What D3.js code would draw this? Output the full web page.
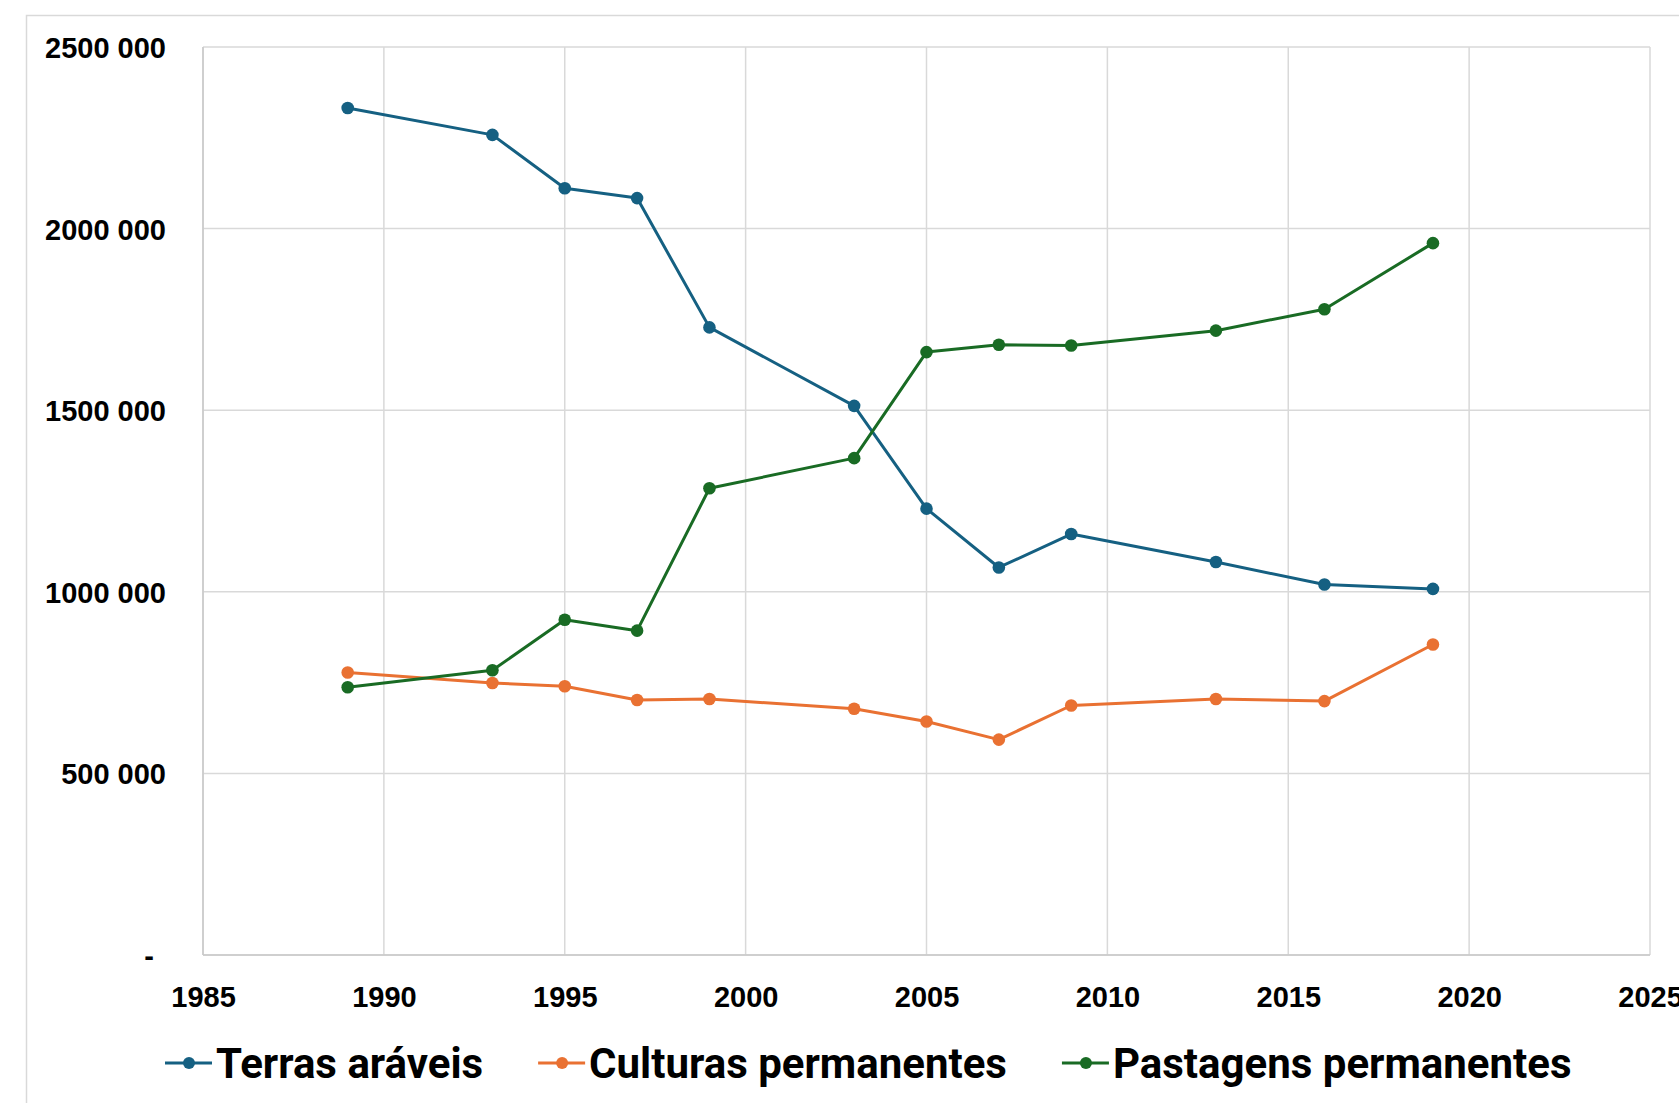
<!DOCTYPE html>
<html>
<head>
<meta charset="utf-8">
<script src="https://cdn.jsdelivr.net/npm/d3@7"></script>
<style>
  body { margin: 0; background: #fff; }
  svg { display: block; font-family: Roboto, 'Liberation Sans', sans-serif; font-weight: bold; }
  .grid line { stroke: #d9d9d9; stroke-width: 1.5; }
  .tick-label { font-size: 29px; fill: #000; }
  .legend-label { font-size: 42px; fill: #000; }
</style>
</head>
<body>
<svg id="chart" width="1679" height="1103"></svg>
<script>
'use strict';

var years = [1989, 1993, 1995, 1997, 1999, 2003, 2005, 2007, 2009, 2013, 2016, 2019];

var terrasAraveis = [2332000, 2258000, 2111000, 2084000, 1728000, 1512000, 1229000, 1067000, 1159000, 1082000, 1020000, 1008000];
var culturasPermanentes = [778000, 749000, 740000, 702000, 705000, 678000, 643000, 593000, 687000, 705000, 699000, 855000];
var pastagensPermanentes = [737000, 784000, 923000, 893000, 1285000, 1368000, 1660000, 1680000, 1678000, 1719000, 1778000, 1960000];

var seriesNames = ['Terras aráveis', 'Culturas permanentes', 'Pastagens permanentes'];
var seriesColors = ['#156082', '#e97132', '#196b24'];

var xTicks = [1985, 1990, 1995, 2000, 2005, 2010, 2015, 2020, 2025];
var yTicks = [0, 500000, 1000000, 1500000, 2000000, 2500000];

var series = [terrasAraveis, culturasPermanentes, pastagensPermanentes].map(function (values, i) {
  return {
    name: seriesNames[i],
    color: seriesColors[i],
    points: years.map(function (y, k) { return { year: y, value: values[k] }; })
  };
});

var svg = d3.select('#chart');

var plot = { left: 203, right: 1650, top: 47, bottom: 955 };

var x = d3.scaleLinear().domain([1985, 2025]).range([plot.left, plot.right]);
var y = d3.scaleLinear().domain([0, 2500000]).range([plot.bottom, plot.top]);

// chart area outline (runs off the right and bottom of the picture)
svg.append('rect')
  .attr('x', 26.5).attr('y', 15.5)
  .attr('width', 1700).attr('height', 1200)
  .attr('fill', 'none')
  .attr('stroke', '#d9d9d9')
  .attr('stroke-width', 1.5);

function formatValue(d) {
  if (d === 0) return '-';
  var thousands = Math.floor(d / 1000);
  var rest = d % 1000;
  return thousands + ' ' + d3.format('03d')(rest);
}

var grid = svg.append('g').attr('class', 'grid');

grid.selectAll('.vline').data(xTicks).enter().append('line')
  .attr('class', 'vline')
  .attr('x1', function (d) { return x(d); })
  .attr('x2', function (d) { return x(d); })
  .attr('y1', plot.top).attr('y2', plot.bottom);

grid.selectAll('.hline').data(yTicks).enter().append('line')
  .attr('class', 'hline')
  .attr('x1', plot.left).attr('x2', plot.right)
  .attr('y1', function (d) { return y(d); })
  .attr('y2', function (d) { return y(d); });

// axis lines a shade darker
svg.append('line')
  .attr('x1', plot.left).attr('x2', plot.right)
  .attr('y1', plot.bottom).attr('y2', plot.bottom)
  .attr('stroke', '#c8c8c8').attr('stroke-width', 1.5);
svg.append('line')
  .attr('x1', plot.left).attr('x2', plot.left)
  .attr('y1', plot.top).attr('y2', plot.bottom)
  .attr('stroke', '#c8c8c8').attr('stroke-width', 1.5);

// y labels
var yAxis = d3.axisLeft(y).tickValues(yTicks).tickFormat(formatValue).tickSize(0).tickPadding(37);
var yAxisGroup = svg.append('g')
  .attr('transform', 'translate(' + plot.left + ',0)')
  .call(yAxis);
yAxisGroup.select('.domain').remove();
yAxisGroup.selectAll('text')
  .attr('class', 'tick-label')
  .attr('font-family', null).attr('font-size', null)
  .attr('fill', null)
  .attr('dx', function (d) { return d === 0 ? -12 : 0; })
  .attr('dy', '0.36em');

// x labels
var xAxis = d3.axisBottom(x).tickValues(xTicks).tickFormat(d3.format('d')).tickSize(0).tickPadding(42);
var xAxisGroup = svg.append('g')
  .attr('transform', 'translate(0,' + plot.bottom + ')')
  .call(xAxis);
xAxisGroup.select('.domain').remove();
xAxisGroup.selectAll('text')
  .attr('class', 'tick-label')
  .attr('font-family', null).attr('font-size', null)
  .attr('fill', null)
  .attr('dy', '0.36em');

// lines and markers
var line = d3.line()
  .x(function (d) { return x(d.year); })
  .y(function (d) { return y(d.value); });

var seriesGroups = svg.selectAll('.series').data(series).enter().append('g').attr('class', 'series');

seriesGroups.append('path')
  .attr('d', function (d) { return line(d.points); })
  .attr('fill', 'none')
  .attr('stroke', function (d) { return d.color; })
  .attr('stroke-width', 3)
  .attr('stroke-linejoin', 'round');

seriesGroups.each(function (s) {
  d3.select(this).selectAll('circle').data(s.points).enter().append('circle')
    .attr('cx', function (d) { return x(d.year); })
    .attr('cy', function (d) { return y(d.value); })
    .attr('r', 6.3)
    .attr('fill', s.color);
});

// legend
var legend = svg.append('g').attr('transform', 'translate(165, 1063)');
var cursor = 0;
series.forEach(function (s) {
  var item = legend.append('g').attr('transform', 'translate(' + cursor + ',0)');
  item.append('line')
    .attr('x1', 0).attr('x2', 47)
    .attr('y1', 0).attr('y2', 0)
    .attr('stroke', s.color).attr('stroke-width', 3);
  item.append('circle').attr('cx', 24).attr('cy', 0).attr('r', 6).attr('fill', s.color);
  var label = item.append('text')
    .attr('class', 'legend-label')
    .attr('x', 51)
    .attr('dy', '0.35em')
    .text(s.name);
  cursor += 51 + label.node().getComputedTextLength() + 55;
});
</script>
</body>
</html>
